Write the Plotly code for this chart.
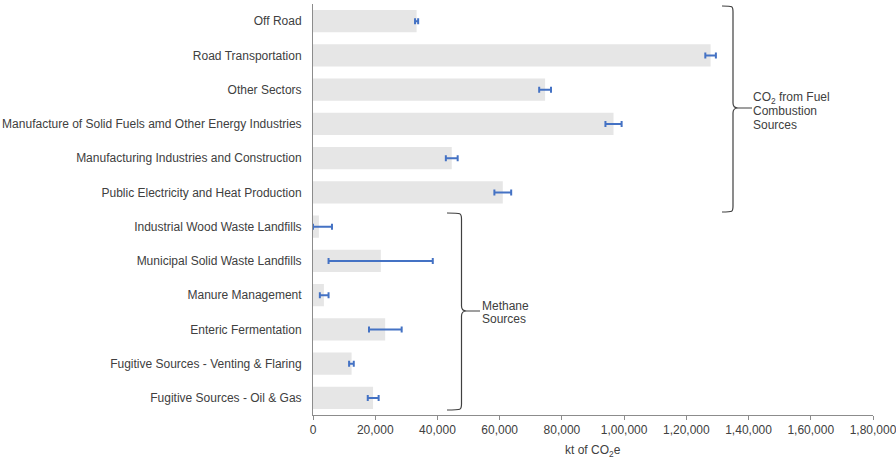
import plotly.graph_objects as go

categories = [
    "Off Road",
    "Road Transportation",
    "Other Sectors",
    "Manufacture of Solid Fuels amd Other Energy Industries",
    "Manufacturing Industries and Construction",
    "Public Electricity and Heat Production",
    "Industrial Wood Waste Landfills",
    "Municipal Solid Waste Landfills",
    "Manure Management",
    "Enteric Fermentation",
    "Fugitive Sources - Venting & Flaring",
    "Fugitive Sources - Oil & Gas",
]
values = [33300, 127800, 74600, 96600, 44600, 61000, 1900, 21800, 3500, 23200, 12400, 19300]
err_plus = [500, 1700, 1900, 2600, 1900, 2700, 4200, 16700, 1500, 5300, 700, 1800]
err_minus = [500, 1700, 1900, 2600, 1900, 2700, 1900, 16800, 1300, 5200, 800, 1700]
x_ticks = [0, 20000, 40000, 60000, 80000, 100000, 120000, 140000, 160000, 180000]
x_tick_labels = ["0", "20,000", "40,000", "60,000", "80,000", "1,00,000",
                 "1,20,000", "1,40,000", "1,60,000", "1,80,000"]
co2_label_lines = ["CO<sub>2</sub> from Fuel", "Combustion", "Sources"]
methane_label_lines = ["Methane", "Sources"]

W, H = 896, 464
L, R, T, B = 313, 23, 4, 49
PW, PH = W - L - R, H - T - B
FS = 12
TXT = "#404040"

def px(x):
    return (x - L) / PW

def py(y):
    return 1 - (y - T) / PH

def brace(x0, xv, xp, yt, ym, yb):
    c = 6
    pts = [
        f"M {px(x0)},{py(yt)}",
        f"C {px(xv)},{py(yt)} {px(xv)},{py(yt)} {px(xv)},{py(yt + c)}",
        f"L {px(xv)},{py(ym - 5)}",
        f"Q {px(xv)},{py(ym)} {px(xv + 5)},{py(ym)}",
        f"L {px(xp)},{py(ym)}",
        f"M {px(xv + 5)},{py(ym)}",
        f"Q {px(xv)},{py(ym)} {px(xv)},{py(ym + 5)}",
        f"L {px(xv)},{py(yb - c)}",
        f"C {px(xv)},{py(yb)} {px(xv)},{py(yb)} {px(x0)},{py(yb)}",
    ]
    return " ".join(pts)

def stacked_lines(lines, x, y_first, step=13.3):
    out = []
    for i, t in enumerate(lines):
        out.append(dict(xref="paper", yref="paper", x=px(x), y=py(y_first + i * step),
                        xanchor="left", yanchor="middle", text=t, showarrow=False,
                        align="left", font=dict(size=FS, color=TXT)))
    return out

fig = go.Figure()
fig.add_trace(go.Bar(
    y=categories, x=values, orientation="h",
    marker=dict(color="#e6e6e6", line=dict(width=0)),
    error_x=dict(type="data", symmetric=False, array=err_plus, arrayminus=err_minus,
                 color="#4472c4", thickness=2, width=3),
    showlegend=False,
))

annotations = []
annotations += stacked_lines(co2_label_lines, 751, 98)
annotations += stacked_lines(methane_label_lines, 480, 306)
annotations.append(dict(xref="paper", yref="paper", x=px(593), y=py(451),
                        xanchor="center", yanchor="middle", text="kt of CO<sub>2</sub>e",
                        showarrow=False, font=dict(size=FS, color=TXT)))

fig.update_layout(
    width=W, height=H,
    margin=dict(l=L, r=R, t=T, b=B, autoexpand=False),
    paper_bgcolor="white", plot_bgcolor="white",
    bargap=0.35,
    font=dict(family="Liberation Sans, Arial, sans-serif", size=FS, color=TXT),
    xaxis=dict(
        range=[0, 180000], tickvals=x_ticks, ticktext=x_tick_labels,
        showgrid=False, zeroline=False, showline=True, linecolor="#8c8c8c", linewidth=1,
        ticks="outside", ticklen=4, tickcolor="#8c8c8c", automargin=False,
        ticklabeloverflow="allow",
        tickfont=dict(size=FS, color=TXT),
    ),
    yaxis=dict(
        autorange="reversed", showgrid=False, zeroline=False, automargin=False,
        showline=True, linecolor="#8c8c8c", linewidth=1, ticks="",
        ticklabelstandoff=8,
        tickfont=dict(size=FS, color=TXT),
    ),
    shapes=[
        dict(type="path", xref="paper", yref="paper",
             path=brace(722, 733, 752, 6, 108, 212),
             line=dict(color="#404040", width=1.2)),
        dict(type="path", xref="paper", yref="paper",
             path=brace(447, 461.5, 480, 213, 311, 410),
             line=dict(color="#404040", width=1.2)),
    ],
    annotations=annotations,
)

fig.write_html("out.html", config={"displayModeBar": False},
               post_script="document.body.style.margin='0';")
